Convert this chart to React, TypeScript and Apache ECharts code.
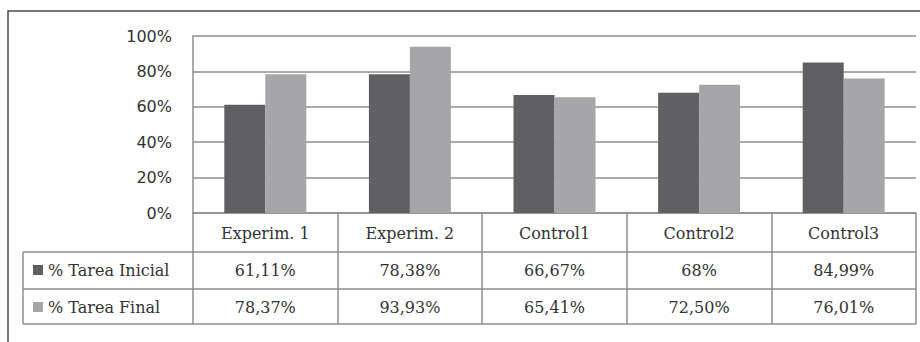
import React, { useEffect, useRef } from "react";
import * as echarts from "echarts";

const categories = ["Experim. 1", "Experim. 2", "Control1", "Control2", "Control3"];
const seriesNames = ["% Tarea Inicial", "% Tarea Final"];
const tareaInicial = [61.11, 78.38, 66.67, 68, 84.99];
const tareaFinal = [78.37, 93.93, 65.41, 72.5, 76.01];
const yTicks = [0, 20, 40, 60, 80, 100];

const COLORS = ["#606062", "#a6a6a8"];
const LINE = "#8e8e8e";
const TEXT = "#333333";
const SERIF = "'DejaVu Serif', 'Liberation Serif', serif";
const SANS = "'DejaVu Sans', Verdana, sans-serif";

const W = 920;
const H = 342;
const GRID = { left: 193, top: 36, right: 4, bottom: 129 };
const ROW = 37;
const TABLE_LEFT = 23;

const fmt = (v: number) =>
  (Number.isInteger(v) ? String(v) : v.toFixed(2).replace(".", ",")) + "%";

export default function App() {
  const ref = useRef<HTMLDivElement>(null);
  useEffect(() => {
    if (!ref.current) return;
    const chart = echarts.init(ref.current, undefined, { renderer: "svg" });
    const axisY = H - GRID.bottom;
    const plotRight = W - GRID.right;
    const rowLines = [1, 2, 3].map((i) => axisY + ROW * i + (i === 1 ? 2 : i === 2 ? 2 : 0));
    const lineStyle = { stroke: LINE, lineWidth: 1.5 };
    const graphics: any[] = [
      {
        type: "rect",
        shape: { x: 8, y: 11, width: 940, height: 400 },
        style: { fill: "none", stroke: "#4a4a4a", lineWidth: 1.5 },
        silent: true,
      },
      ...rowLines.map((y) => ({
        type: "line",
        shape: { x1: TABLE_LEFT, y1: y, x2: plotRight, y2: y },
        style: lineStyle,
        silent: true,
      })),
      {
        type: "line",
        shape: { x1: TABLE_LEFT, y1: rowLines[0], x2: TABLE_LEFT, y2: rowLines[2] },
        style: lineStyle,
        silent: true,
      },
    ];
    chart.setOption({
      animation: false,
      grid: { ...GRID },
      legend: {
        orient: "vertical",
        left: 33,
        top: rowLines[0] + 8,
        padding: 0,
        itemWidth: 10,
        itemHeight: 10,
        itemGap: 17,
        icon: "rect",
        data: seriesNames,
        textStyle: { fontFamily: SERIF, fontSize: 16, color: TEXT, lineHeight: 20 },
      },
      xAxis: {
        type: "category",
        data: categories,
        axisLine: { show: true, lineStyle: { color: LINE, width: 1.5 } },
        axisTick: {
          show: true,
          interval: 0,
          length: rowLines[2] - axisY,
          lineStyle: { color: LINE, width: 1.5 },
        },
        axisLabel: {
          interval: 0,
          margin: 1,
          verticalAlign: "top",
          formatter: (value: string, index: number) =>
            `{h|${value}}\n{v|${fmt(tareaInicial[index])}}\n{v|${fmt(tareaFinal[index])}}`,
          rich: {
            h: { fontFamily: SERIF, fontSize: 16, color: TEXT, lineHeight: ROW + 1, height: ROW + 1 },
            v: { fontFamily: SERIF, fontSize: 16, color: TEXT, lineHeight: ROW, height: ROW },
          },
        },
      },
      yAxis: {
        type: "value",
        min: yTicks[0],
        max: yTicks[yTicks.length - 1],
        interval: 20,
        axisLine: { show: true, lineStyle: { color: LINE, width: 1.5 } },
        axisTick: { show: false },
        splitLine: { show: true, lineStyle: { color: LINE, width: 1.5 } },
        axisLabel: {
          formatter: "{value}%",
          fontFamily: SANS,
          fontSize: 16,
          color: TEXT,
          margin: 21,
        },
      },
      series: [
        {
          name: seriesNames[0],
          type: "bar",
          data: tareaInicial,
          barWidth: 41,
          barGap: "0%",
          itemStyle: { color: COLORS[0] },
        },
        {
          name: seriesNames[1],
          type: "bar",
          data: tareaFinal,
          barWidth: 41,
          barGap: "0%",
          itemStyle: { color: COLORS[1] },
        },
      ],
      graphic: graphics,
    });
    return () => chart.dispose();
  }, []);
  return (
    <div
      ref={ref}
      style={{ position: "absolute", left: 0, top: 0, width: W, height: H, background: "#fff" }}
    />
  );
}
